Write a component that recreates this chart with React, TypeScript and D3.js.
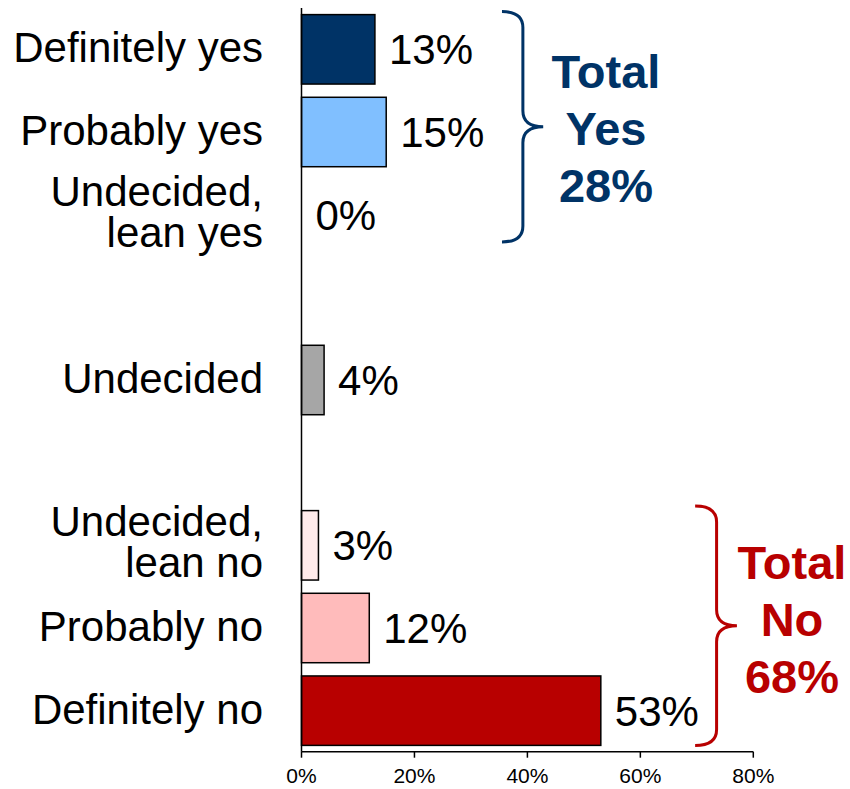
import React from "react";
import * as d3 from "d3";

// ---- Data ----
const slots = ["defYes", "probYes", "leanYes", "gap1", "undecided", "gap2", "leanNo", "probNo", "defNo"];
const categoryLines: string[][] = [
  ["Definitely yes"],
  ["Probably yes"],
  ["Undecided,", "lean yes"],
  [],
  ["Undecided"],
  [],
  ["Undecided,", "lean no"],
  ["Probably no"],
  ["Definitely no"],
];
const values: (number | null)[] = [13, 15, 0, null, 4, null, 3, 12, 53];
const barColors = ["#003366", "#80BFFF", "#80BFFF", "none", "#A6A6A6", "none", "#FFEBEB", "#FFBBBB", "#B80000"];
const tickValues = [0, 20, 40, 60, 80];
const totalYesLines = ["Total", "Yes", "28%"];
const totalNoLines = ["Total", "No", "68%"];

// ---- Layout ----
const W = 850;
const H = 789;
const FONT = "'Liberation Sans', Arial, Helvetica, sans-serif";
const NAVY = "#003366";
const RED = "#B80000";

function bracePath(x0: number, xv: number, xt: number, yTop: number, yBot: number, r: number) {
  const yMid = (yTop + yBot) / 2;
  return [
    `M${x0},${yTop}`,
    `Q${xv},${yTop} ${xv},${yTop + r}`,
    `L${xv},${yMid - r}`,
    `Q${xv},${yMid} ${xt},${yMid}`,
    `Q${xv},${yMid} ${xv},${yMid + r}`,
    `L${xv},${yBot - r}`,
    `Q${xv},${yBot} ${x0},${yBot}`,
  ].join(" ");
}

export default function App() {
  const x = d3.scaleLinear().domain([0, 80]).range([301.5, 753.3]);
  const y = d3.scaleBand<string>().domain(slots).range([8, 752]).paddingInner(0.16).paddingOuter(0.08);
  const bw = y.bandwidth();
  const axisY = 751.7;

  const yesTop = (y("defYes") as number) - 3;
  const yesBot = (y("leanYes") as number) + bw - 7.5;
  const noTop = (y("leanNo") as number) - 4.5;
  const noBot = (y("defNo") as number) + bw;

  return (
    <svg width={W} height={H} style={{ position: "absolute", left: 0, top: 0, background: "#fff" }} fontFamily={FONT}>
      {/* bars */}
      {slots.map((s, i) => {
        const v = values[i];
        if (v === null || v === 0) return null;
        return (
          <rect
            key={s}
            x={x(0)}
            y={y(s)}
            width={x(v) - x(0)}
            height={bw}
            fill={barColors[i]}
            stroke="#000"
            strokeWidth={1.5}
          />
        );
      })}

      {/* value labels */}
      {slots.map((s, i) => {
        const v = values[i];
        if (v === null) return null;
        const cy = (y(s) as number) + bw / 2;
        return (
          <text key={s + "v"} x={x(v) + 14} y={cy + 15} fontSize={42} fill="#000">
            {v}%
          </text>
        );
      })}

      {/* category labels */}
      {slots.map((s, i) => {
        const lines = categoryLines[i];
        if (!lines.length) return null;
        const cy = (y(s) as number) + bw / 2;
        const base = lines.length === 1 ? cy + 13 : cy - 9;
        return (
          <text key={s + "c"} x={263} textAnchor="end" fontSize={42} fill="#000">
            {lines.map((l, j) => (
              <tspan key={j} x={263} y={base + j * 41}>
                {l}
              </tspan>
            ))}
          </text>
        );
      })}

      {/* axes */}
      <line x1={x(0)} x2={x(0)} y1={8} y2={axisY} stroke="#000" strokeWidth={1.5} />
      <line x1={x(0)} x2={x(80)} y1={axisY} y2={axisY} stroke="#000" strokeWidth={1.5} />
      {tickValues.map((t) => (
        <g key={t}>
          <line x1={x(t)} x2={x(t)} y1={axisY} y2={axisY + 6} stroke="#000" strokeWidth={1.5} />
          <text x={x(t)} y={783} textAnchor="middle" fontSize={21} fill="#000">
            {t}%
          </text>
        </g>
      ))}

      {/* braces */}
      <path d={bracePath(x(35.5), x(39.2), x(42.8), yesTop, yesBot, 16)} fill="none" stroke={NAVY} strokeWidth={3} />
      <path d={bracePath(x(69.7), x(73.5), x(77.1), noTop, noBot, 16)} fill="none" stroke={RED} strokeWidth={3} />

      {/* totals */}
      <text textAnchor="middle" fontSize={47} fontWeight="bold" fill={NAVY}>
        {totalYesLines.map((l, j) => (
          <tspan key={j} x={606} y={88 + j * 57}>
            {l}
          </tspan>
        ))}
      </text>
      <text textAnchor="middle" fontSize={47} fontWeight="bold" fill={RED}>
        {totalNoLines.map((l, j) => (
          <tspan key={j} x={792} y={579 + j * 57}>
            {l}
          </tspan>
        ))}
      </text>
    </svg>
  );
}
